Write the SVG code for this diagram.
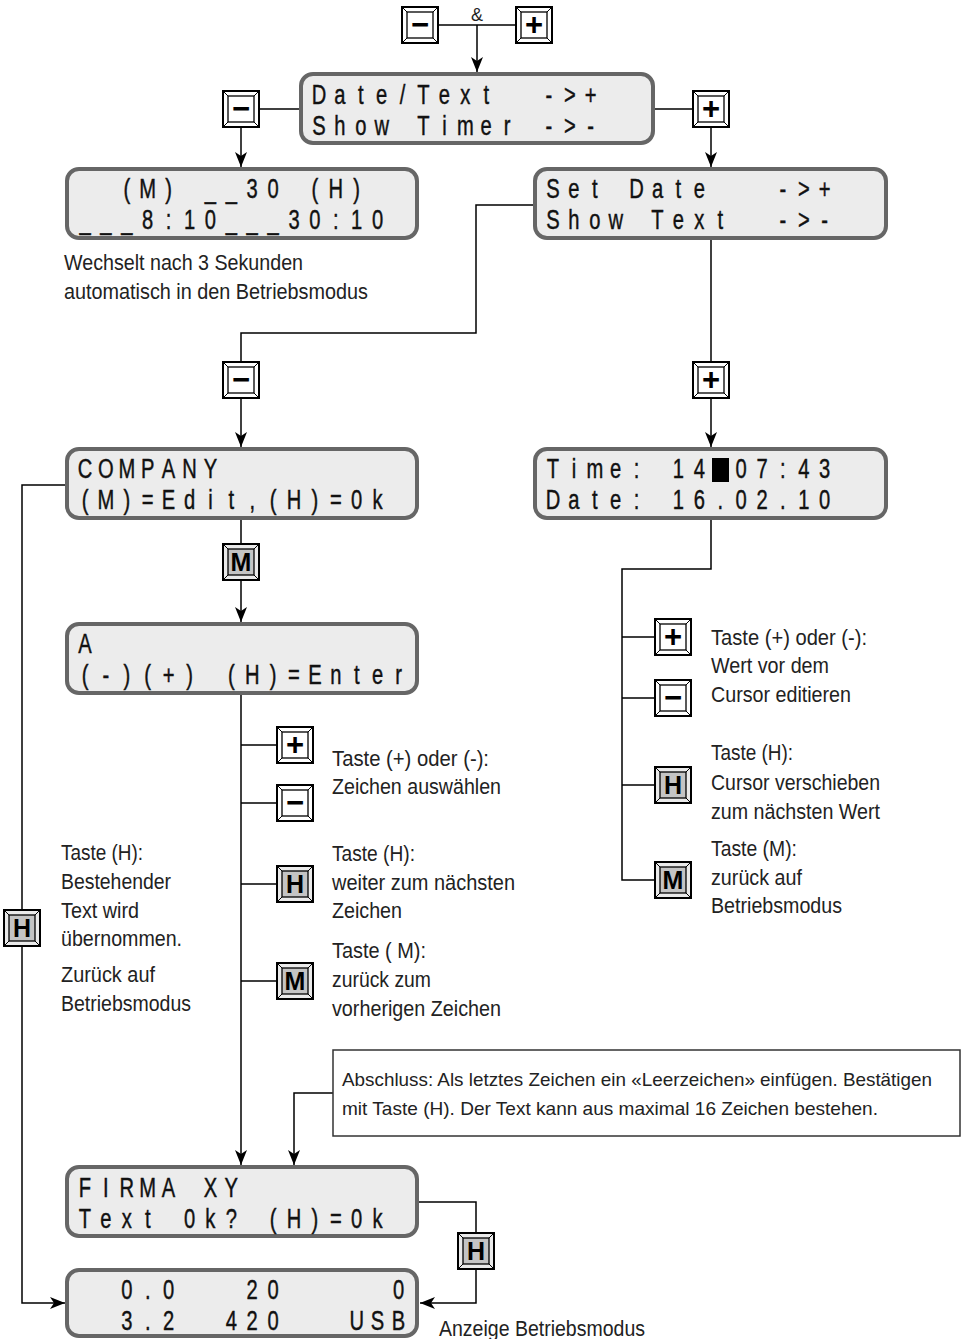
<svg xmlns="http://www.w3.org/2000/svg" xmlns:xlink="http://www.w3.org/1999/xlink" width="965" height="1339" viewBox="0 0 965 1339">
<style>
.lcdbox{fill:#ececec;stroke:#666;stroke-width:4}
.lcd{font-family:"Liberation Sans",Arial,sans-serif;font-size:28px;fill:#111;stroke:#111;stroke-width:0.45;text-anchor:middle;white-space:pre}
.lbl{font-family:"Liberation Sans",Arial,sans-serif;font-size:22px;fill:#222}
.nt{font-family:"Liberation Sans",Arial,sans-serif;font-size:18.5px;fill:#222}
.conn{fill:none;stroke:#000;stroke-width:1.5}
.arr{marker-end:url(#ah)}
.ks{font-family:"Liberation Sans",Arial,sans-serif;font-weight:bold;font-size:31px;text-anchor:middle;fill:#000}
.kl{font-family:"Liberation Sans",Arial,sans-serif;font-weight:bold;font-size:25px;text-anchor:middle;fill:#000}
.note{fill:#fff;stroke:#333;stroke-width:1.5}
</style>
<defs>
<marker id="ah" viewBox="0 0 15 12" refX="15" refY="6" markerWidth="15" markerHeight="12" markerUnits="userSpaceOnUse" orient="auto">
<path d="M0,0 L15,6 L0,12 L4,6 z" fill="#000"/>
</marker>
<g id="kw">
<rect x="0" y="0" width="36" height="36" fill="#fff" stroke="#000" stroke-width="2"/>
<rect x="5" y="5" width="26" height="26" fill="#fff" stroke="#000" stroke-width="1.3"/>
<path d="M0,0 L5,5 M36,0 L31,5 M0,36 L5,31 M36,36 L31,31" stroke="#000" stroke-width="1"/>
</g>
<g id="kg">
<rect x="0" y="0" width="36" height="36" fill="#eaeaea" stroke="#000" stroke-width="2"/>
<rect x="5" y="5" width="26" height="26" fill="#c4c4c4" stroke="#000" stroke-width="1.3"/>
<path d="M0,0 L5,5 M36,0 L31,5 M0,36 L5,31 M36,36 L31,31" stroke="#000" stroke-width="1"/>
</g>
</defs>
<rect width="965" height="1339" fill="#fff"/>

<g id="connectors">
<path class="conn" d="M438,25 H516"/>
<path class="conn arr" d="M477,25 V72"/>
<path class="conn" d="M259,109 H299"/>
<path class="conn arr" d="M241,127 V167"/>
<path class="conn" d="M654,109 H693"/>
<path class="conn arr" d="M711,127 V167"/>
<path class="conn" d="M533,205 H476 V333 H241 V362"/>
<path class="conn arr" d="M241,398 V447"/>
<path class="conn" d="M711,240 V362"/>
<path class="conn arr" d="M711,398 V447"/>
<path class="conn" d="M241,520 V544"/>
<path class="conn arr" d="M241,580 V622"/>
<path class="conn" d="M65,485 H22 V910"/>
<path class="conn arr" d="M22,946 V1303 H65"/>
<path class="conn arr" d="M241,695 V1165"/>
<path class="conn" d="M241,745 H277 M241,803 H277 M241,884 H277 M241,981 H277"/>
<path class="conn" d="M711,520 V569 H622 V880 H655"/>
<path class="conn" d="M622,637 H655 M622,698 H655 M622,785 H655"/>
<path class="conn arr" d="M333,1093 H294 V1165"/>
<path class="conn" d="M418,1202 H476 V1233"/>
<path class="conn arr" d="M476,1269 V1303 H420"/>
</g>

<g id="key-top-minus" transform="translate(402,7)"><use xlink:href="#kw"/><text class="ks" x="18" y="28">−</text></g>
<g id="key-top-plus" transform="translate(516,7)"><use xlink:href="#kw"/><text class="ks" x="18" y="28">+</text></g>
<text id="amp" x="477" y="21" font-family="Liberation Sans,Arial,sans-serif" font-size="18" text-anchor="middle" fill="#222">&amp;</text>

<g id="lcd-datetext">
<rect class="lcdbox" x="301" y="74" width="352" height="69" rx="12"/>
<text class="lcd" xml:space="preserve" transform="translate(319,104) scale(0.72,1)" x="0 29.03 58.06 87.08 116.11 145.14 174.17 203.19 232.22 261.25 290.28 319.31 348.33 377.36 406.39 435.42" y="0">Date/Text  -&gt;+</text>
<text class="lcd" xml:space="preserve" transform="translate(319,135) scale(0.72,1)" x="0 29.03 58.06 87.08 116.11 145.14 174.17 203.19 232.22 261.25 290.28 319.31 348.33 377.36 406.39 435.42" y="0">Show Timer -&gt;-</text>
</g>

<g id="key-left-minus" transform="translate(223,91)"><use xlink:href="#kw"/><text class="ks" x="18" y="28">−</text></g>
<g id="key-right-plus" transform="translate(693,91)"><use xlink:href="#kw"/><text class="ks" x="18" y="28">+</text></g>

<g id="lcd-timer">
<rect class="lcdbox" x="67" y="169" width="350" height="69" rx="12"/>
<text class="lcd" xml:space="preserve" transform="translate(85,198) scale(0.72,1)" x="0 29.03 58.06 87.08 116.11 145.14 174.17 203.19 232.22 261.25 290.28 319.31 348.33 377.36 406.39 435.42" y="0">  (M) __30 (H)</text>
<text class="lcd" xml:space="preserve" transform="translate(85,229) scale(0.72,1)" x="0 29.03 58.06 87.08 116.11 145.14 174.17 203.19 232.22 261.25 290.28 319.31 348.33 377.36 406.39 435.42" y="0">___8:10___30:10</text>
</g>
<g id="lbl-wechselt">
<text class="lbl" x="64" y="270" textLength="239" lengthAdjust="spacingAndGlyphs">Wechselt nach 3 Sekunden</text>
<text class="lbl" x="64" y="299" textLength="304" lengthAdjust="spacingAndGlyphs">automatisch in den Betriebsmodus</text>
</g>

<g id="lcd-setdate">
<rect class="lcdbox" x="535" y="169" width="351" height="69" rx="12"/>
<text class="lcd" xml:space="preserve" transform="translate(553,198) scale(0.72,1)" x="0 29.03 58.06 87.08 116.11 145.14 174.17 203.19 232.22 261.25 290.28 319.31 348.33 377.36 406.39 435.42" y="0">Set Date   -&gt;+</text>
<text class="lcd" xml:space="preserve" transform="translate(553,229) scale(0.72,1)" x="0 29.03 58.06 87.08 116.11 145.14 174.17 203.19 232.22 261.25 290.28 319.31 348.33 377.36 406.39 435.42" y="0">Show Text  -&gt;-</text>
</g>

<g id="key-mid-minus" transform="translate(223,362)"><use xlink:href="#kw"/><text class="ks" x="18" y="28">−</text></g>
<g id="key-mid-plus" transform="translate(693,362)"><use xlink:href="#kw"/><text class="ks" x="18" y="28">+</text></g>

<g id="lcd-company">
<rect class="lcdbox" x="67" y="449" width="350" height="69" rx="12"/>
<text class="lcd" xml:space="preserve" transform="translate(85,478) scale(0.72,1)" x="0 29.03 58.06 87.08 116.11 145.14 174.17 203.19 232.22 261.25 290.28 319.31 348.33 377.36 406.39 435.42" y="0">COMPANY</text>
<text class="lcd" xml:space="preserve" transform="translate(85,509) scale(0.72,1)" x="0 29.03 58.06 87.08 116.11 145.14 174.17 203.19 232.22 261.25 290.28 319.31 348.33 377.36 406.39 435.42" y="0">(M)=Edit,(H)=0k</text>
</g>

<g id="lcd-time">
<rect class="lcdbox" x="535" y="449" width="351" height="69" rx="12"/>
<rect x="712" y="458" width="17" height="24" fill="#000"/>
<text class="lcd" xml:space="preserve" transform="translate(553,478) scale(0.72,1)" x="0 29.03 58.06 87.08 116.11 145.14 174.17 203.19 232.22 261.25 290.28 319.31 348.33 377.36 406.39 435.42" y="0">Time: 14 07:43</text>
<text class="lcd" xml:space="preserve" transform="translate(553,509) scale(0.72,1)" x="0 29.03 58.06 87.08 116.11 145.14 174.17 203.19 232.22 261.25 290.28 319.31 348.33 377.36 406.39 435.42" y="0">Date: 16.02.10</text>
</g>

<g id="key-m-company" transform="translate(223,544)"><use xlink:href="#kg"/><text class="kl" x="18" y="27">M</text></g>

<g id="lcd-edit">
<rect class="lcdbox" x="67" y="624" width="350" height="69" rx="12"/>
<text class="lcd" xml:space="preserve" transform="translate(85,653) scale(0.72,1)" x="0 29.03 58.06 87.08 116.11 145.14 174.17 203.19 232.22 261.25 290.28 319.31 348.33 377.36 406.39 435.42" y="0">A</text>
<text class="lcd" xml:space="preserve" transform="translate(85,684) scale(0.72,1)" x="0 29.03 58.06 87.08 116.11 145.14 174.17 203.19 232.22 261.25 290.28 319.31 348.33 377.36 406.39 435.42" y="0">(-)(+) (H)=Enter</text>
</g>

<g id="key-edit-plus" transform="translate(277,727)"><use xlink:href="#kw"/><text class="ks" x="18" y="28">+</text></g>
<g id="key-edit-minus" transform="translate(277,785)"><use xlink:href="#kw"/><text class="ks" x="18" y="28">−</text></g>
<g id="key-edit-h" transform="translate(277,866)"><use xlink:href="#kg"/><text class="kl" x="18" y="27">H</text></g>
<g id="key-edit-m" transform="translate(277,963)"><use xlink:href="#kg"/><text class="kl" x="18" y="27">M</text></g>

<g id="lbl-edit">
<text class="lbl" x="332" y="766" textLength="157" lengthAdjust="spacingAndGlyphs">Taste (+) oder (-):</text>
<text class="lbl" x="332" y="794" textLength="169" lengthAdjust="spacingAndGlyphs">Zeichen auswählen</text>
<text class="lbl" x="332" y="861" textLength="83" lengthAdjust="spacingAndGlyphs">Taste (H):</text>
<text class="lbl" x="332" y="890" textLength="183" lengthAdjust="spacingAndGlyphs">weiter zum nächsten</text>
<text class="lbl" x="332" y="918" textLength="70" lengthAdjust="spacingAndGlyphs">Zeichen</text>
<text class="lbl" x="332" y="958" textLength="94" lengthAdjust="spacingAndGlyphs">Taste ( M):</text>
<text class="lbl" x="332" y="987" textLength="99" lengthAdjust="spacingAndGlyphs">zurück zum</text>
<text class="lbl" x="332" y="1016" textLength="169" lengthAdjust="spacingAndGlyphs">vorherigen Zeichen</text>
</g>

<g id="key-time-plus" transform="translate(655,619)"><use xlink:href="#kw"/><text class="ks" x="18" y="28">+</text></g>
<g id="key-time-minus" transform="translate(655,680)"><use xlink:href="#kw"/><text class="ks" x="18" y="28">−</text></g>
<g id="key-time-h" transform="translate(655,767)"><use xlink:href="#kg"/><text class="kl" x="18" y="27">H</text></g>
<g id="key-time-m" transform="translate(655,862)"><use xlink:href="#kg"/><text class="kl" x="18" y="27">M</text></g>

<g id="lbl-time">
<text class="lbl" x="711" y="645" textLength="156" lengthAdjust="spacingAndGlyphs">Taste (+) oder (-):</text>
<text class="lbl" x="711" y="673" textLength="118" lengthAdjust="spacingAndGlyphs">Wert vor dem</text>
<text class="lbl" x="711" y="702" textLength="140" lengthAdjust="spacingAndGlyphs">Cursor editieren</text>
<text class="lbl" x="711" y="760" textLength="82" lengthAdjust="spacingAndGlyphs">Taste (H):</text>
<text class="lbl" x="711" y="790" textLength="169" lengthAdjust="spacingAndGlyphs">Cursor verschieben</text>
<text class="lbl" x="711" y="819" textLength="169" lengthAdjust="spacingAndGlyphs">zum nächsten Wert</text>
<text class="lbl" x="711" y="856" textLength="86" lengthAdjust="spacingAndGlyphs">Taste (M):</text>
<text class="lbl" x="711" y="885" textLength="91" lengthAdjust="spacingAndGlyphs">zurück auf</text>
<text class="lbl" x="711" y="913" textLength="131" lengthAdjust="spacingAndGlyphs">Betriebsmodus</text>
</g>

<g id="key-left-h" transform="translate(4,910)"><use xlink:href="#kg"/><text class="kl" x="18" y="27">H</text></g>
<g id="lbl-left">
<text class="lbl" x="61" y="860" textLength="82" lengthAdjust="spacingAndGlyphs">Taste (H):</text>
<text class="lbl" x="61" y="889" textLength="110" lengthAdjust="spacingAndGlyphs">Bestehender</text>
<text class="lbl" x="61" y="918" textLength="78" lengthAdjust="spacingAndGlyphs">Text wird</text>
<text class="lbl" x="61" y="946" textLength="121" lengthAdjust="spacingAndGlyphs">übernommen.</text>
<text class="lbl" x="61" y="982" textLength="94" lengthAdjust="spacingAndGlyphs">Zurück auf</text>
<text class="lbl" x="61" y="1011" textLength="130" lengthAdjust="spacingAndGlyphs">Betriebsmodus</text>
</g>

<g id="note">
<rect class="note" x="333" y="1050" width="627" height="86"/>
<text class="nt" x="342" y="1086" textLength="590" lengthAdjust="spacingAndGlyphs">Abschluss: Als letztes Zeichen ein «Leerzeichen» einfügen. Bestätigen</text>
<text class="nt" x="342" y="1115" textLength="536" lengthAdjust="spacingAndGlyphs">mit Taste (H). Der Text kann aus maximal 16 Zeichen bestehen.</text>
</g>

<g id="lcd-firma">
<rect class="lcdbox" x="67" y="1167" width="350" height="69" rx="12"/>
<text class="lcd" xml:space="preserve" transform="translate(85,1197) scale(0.72,1)" x="0 29.03 58.06 87.08 116.11 145.14 174.17 203.19 232.22 261.25 290.28 319.31 348.33 377.36 406.39 435.42" y="0">FIRMA XY</text>
<text class="lcd" xml:space="preserve" transform="translate(85,1228) scale(0.72,1)" x="0 29.03 58.06 87.08 116.11 145.14 174.17 203.19 232.22 261.25 290.28 319.31 348.33 377.36 406.39 435.42" y="0">Text 0k? (H)=0k</text>
</g>

<g id="key-firma-h" transform="translate(458,1233)"><use xlink:href="#kg"/><text class="kl" x="18" y="27">H</text></g>

<g id="lcd-operation">
<rect class="lcdbox" x="67" y="1270" width="350" height="66" rx="12"/>
<text class="lcd" xml:space="preserve" transform="translate(85,1299) scale(0.72,1)" x="0 29.03 58.06 87.08 116.11 145.14 174.17 203.19 232.22 261.25 290.28 319.31 348.33 377.36 406.39 435.42" y="0">  0.0   20     0</text>
<text class="lcd" xml:space="preserve" transform="translate(85,1330) scale(0.72,1)" x="0 29.03 58.06 87.08 116.11 145.14 174.17 203.19 232.22 261.25 290.28 319.31 348.33 377.36 406.39 435.42" y="0">  3.2  420   USB</text>
</g>
<text id="lbl-anzeige" class="lbl" x="439" y="1336" textLength="206" lengthAdjust="spacingAndGlyphs">Anzeige Betriebsmodus</text>
</svg>
